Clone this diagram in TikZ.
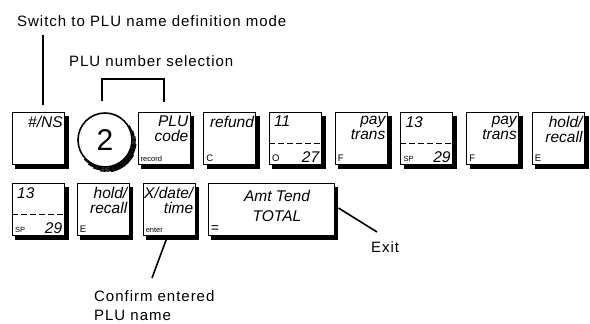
\documentclass[tikz,border=0pt]{standalone}
\usepackage{fontspec}
\setmainfont{Liberation Sans}
\usetikzlibrary{positioning, calc}

\newfontfamily\notefont[LetterSpace=6.5]{Liberation Sans}
\newcommand{\keyfont}{\fontsize{15.5}{15}\selectfont\itshape}
\newcommand{\subfont}{\fontsize{7.5}{8}\selectfont}
\newcommand{\letfont}{\fontsize{9.5}{9.5}\selectfont}

\tikzset{
  keybox/.style={draw, line width=0.9pt, fill=white, minimum width=52pt,
    minimum height=52pt, inner sep=0pt},
  topr/.style={font=\keyfont, align=right, anchor=north east, inner xsep=2pt, inner ysep=4.5pt},
  topl/.style={font=\keyfont, anchor=north west, inner xsep=5pt, inner ysep=4.5pt},
  botl/.style={font=\subfont, anchor=south west, inner xsep=3pt, inner ysep=2.5pt},
  botr/.style={font=\keyfont, anchor=south east, inner xsep=2.5pt, inner ysep=2pt},
  note/.style={font=\notefont\fontsize{15}{19}\selectfont, align=left, inner sep=1pt},
  conn/.style={line width=1.6pt},
  divide/.style={line width=0.9pt, dash pattern=on 6pt off 3pt},
  shadowline/.style={line width=1.2pt, black}
}

\begin{document}
\begin{tikzpicture}[x=1pt, y=1pt]
  \useasboundingbox (0,0) rectangle (590,324);

  % Upper row of keys
  \node[keybox] (ns) at (38.4,186) {};
  \node[topr] (nsT) at (ns.north east) {\#/NS};

  \node[circle, draw, line width=1.6pt, fill=white, minimum size=54pt,
    font=\fontsize{30}{30}\selectfont] (two) at (105,184) {2};

  \node[keybox] (plu) at (164,186) {};
  \node[topr] (pluT) at (plu.north east) {PLU\\code};
  \node[botl] (pluB) at (plu.south west) {record};

  \node[keybox] (refund) at (229.7,186) {};
  \node[topr] (refundT) at (refund.north east) {refund};
  \node[botl, font=\letfont] (refundB) at (refund.south west) {C};

  \node[keybox] (o27) at (295.4,186) {};
  \node[topl] (o27T) at (o27.north west) {11};
  \node[botl, font=\letfont] (o27B) at (o27.south west) {O};
  \node[botr] (o27R) at (o27.south east) {27};
  \draw[divide] ([yshift=-5.5pt]o27.west) -- ([yshift=-5.5pt]o27.east);

  \node[keybox] (payA) at (361.1,186) {};
  \node[topr] (payAT) at (payA.north east) {pay\\trans};
  \node[botl, font=\letfont] (payAB) at (payA.south west) {F};

  \node[keybox] (spA) at (426.8,186) {};
  \node[topl] (spAT) at (spA.north west) {13};
  \node[botl] (spAB) at (spA.south west) {SP};
  \node[botr] (spAR) at (spA.south east) {29};
  \draw[divide] ([yshift=-5.5pt]spA.west) -- ([yshift=-5.5pt]spA.east);

  \node[keybox] (payB) at (492.5,186) {};
  \node[topr] (payBT) at (payB.north east) {pay\\trans};
  \node[botl, font=\letfont] (payBB) at (payB.south west) {F};

  \node[keybox] (holdA) at (558.2,186) {};
  \node[topr] (holdAT) at (holdA.north east) {hold/\\recall};
  \node[botl, font=\letfont] (holdAB) at (holdA.south west) {E};

  % Lower row of keys
  \node[keybox] (spB) at (38.4,115) {};
  \node[topl] (spBT) at (spB.north west) {13};
  \node[botl] (spBB) at (spB.south west) {SP};
  \node[botr] (spBR) at (spB.south east) {29};
  \draw[divide] ([yshift=-5.5pt]spB.west) -- ([yshift=-5.5pt]spB.east);

  \node[keybox] (holdB) at (103,115) {};
  \node[topr] (holdBT) at (holdB.north east) {hold/\\recall};
  \node[botl, font=\letfont] (holdBB) at (holdB.south west) {E};

  \node[keybox] (xdt) at (169,115) {};
  \node[topr] (xdtT) at (xdt.north east) {X/date/\\time};
  \node[botl] (xdtB) at (xdt.south west) {enter};

  \node[keybox, minimum width=126pt] (amt) at (271,115) {};
  \node[font=\fontsize{15.5}{20}\selectfont\itshape, align=center] (amtT)
    at ([xshift=6pt, yshift=3pt]amt.center) {Amt Tend\\TOTAL};
  \node[botl, font=\fontsize{14}{14}\selectfont] (amtB) at (amt.south west) {=};

  % Shadows: right and bottom edges of every key
  \foreach \kname in {ns,plu,refund,o27,payA,spA,payB,holdA,spB,holdB,xdt,amt} {
    \foreach \d in {0.6,1.6,2.6,3.4}
      \draw[shadowline] ($(\kname.north east)+(\d,-4.5)$) -- ($(\kname.south east)+(\d,-4.5)$);
    \foreach \d in {0.6,1.6,2.6,3.6,4.4}
      \draw[shadowline] ($(\kname.south west)+(3.5,-\d)$) -- ($(\kname.south east)+(4,-\d)$);
  }
  % crescent under the number key
  \foreach \r/\a in {28.2/84, 29.2/72, 30.2/60, 31.2/46, 32.2/26}
    \draw[shadowline] ($(two.center)+(-53-\a:\r)$) arc[start angle=-53-\a, end angle=-53+\a, radius=\r];

  % Notes and pointers
  \node[note, anchor=west] (mode) at (16,303) {Switch to PLU name definition mode};
  \draw[conn] ([xshift=4.5pt, yshift=7pt]ns.north) -- ++(0,70);

  \node[note, anchor=west] (sel) at (68,263) {PLU number selection};
  \draw[conn] ([xshift=-3pt, yshift=11pt]two.north) -- ++(0,22) -| ([yshift=10pt]plu.north);

  \node[note, anchor=west] (exit) at (370,77) {Exit};
  \coordinate (exitend) at (377,92);
  \draw[conn] ([xshift=4pt, yshift=1pt]amt.east) -- (exitend);

  \node[note, anchor=north west] (conf) at (93,35) {Confirm entered\\PLU name};
  \coordinate (confend) at (152,46);
  \draw[conn] ([xshift=-2pt, yshift=-2pt]xdt.south) -- (confend);
\end{tikzpicture}
\end{document}
